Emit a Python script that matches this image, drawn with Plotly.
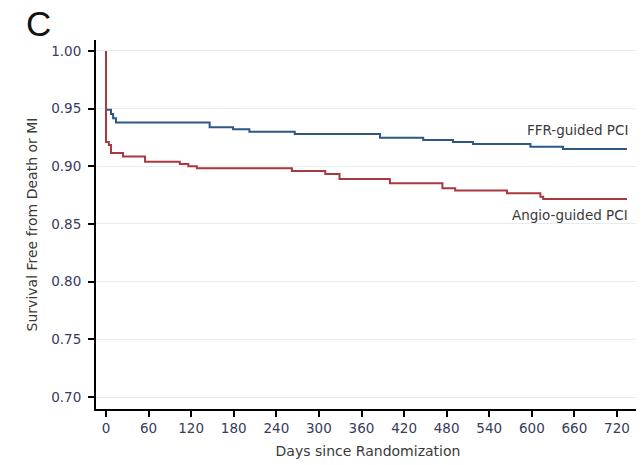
import plotly.graph_objects as go

# Kaplan-Meier step data (days, survival)
ffr_days = [0, 0, 7, 10, 14, 146, 179, 202, 266, 386, 447, 489, 517, 598, 644, 734]
ffr_surv = [1.0, 0.949, 0.9454, 0.9416, 0.9379, 0.9338, 0.9321, 0.930, 0.928, 0.9248,
            0.9228, 0.9211, 0.9194, 0.917, 0.915, 0.915]

angio_days = [0, 0, 4, 7, 24, 55, 104, 116, 128, 262, 309, 329, 400, 474, 492, 565,
              612, 616, 734]
angio_surv = [1.0, 0.921, 0.9185, 0.9116, 0.9084, 0.904, 0.902, 0.900, 0.8983, 0.896,
              0.8933, 0.889, 0.8853, 0.881, 0.879, 0.8766, 0.8737, 0.8717, 0.8717]

x_ticks = [0, 60, 120, 180, 240, 300, 360, 420, 480, 540, 600, 660, 720]
y_ticks = [0.70, 0.75, 0.80, 0.85, 0.90, 0.95, 1.00]

series_labels = ["FFR-guided PCI", "Angio-guided PCI"]

font_family = "DejaVu Sans, sans-serif"
tick_color = "#363c5c"
text_color = "#3a3a3a"

fig = go.Figure()
fig.add_trace(go.Scatter(x=ffr_days, y=ffr_surv, mode="lines", line_shape="hv",
                         line=dict(color="#2f5784", width=2), name=series_labels[0],
                         hoverinfo="skip"))
fig.add_trace(go.Scatter(x=angio_days, y=angio_surv, mode="lines", line_shape="hv",
                         line=dict(color="#a9393f", width=2), name=series_labels[1],
                         hoverinfo="skip"))

fig.add_annotation(x=738, y=0.9315, xref="x", yref="y", text=series_labels[0],
                   showarrow=False, xanchor="right", yanchor="middle",
                   font=dict(size=13.5, color=text_color, family=font_family))
fig.add_annotation(x=738, y=0.858, xref="x", yref="y", text=series_labels[1],
                   showarrow=False, xanchor="right", yanchor="middle",
                   font=dict(size=13.5, color=text_color, family=font_family))

# panel letter
fig.add_annotation(x=(38 - 96) / 544, y=(409 - 23) / 369, xref="paper", yref="paper",
                   text="C", showarrow=False, xanchor="center", yanchor="middle",
                   font=dict(size=35, color="#111111", family="Liberation Sans, Arial, sans-serif"))

# (page body adds an 8px offset, so the figure is 8px smaller and margins shifted)
fig.update_layout(
    width=636, height=457,
    margin=dict(l=88, r=4, t=32, b=56, autoexpand=False),
    paper_bgcolor="white", plot_bgcolor="white",
    showlegend=False,
    font=dict(family=font_family, size=13, color=text_color),
    xaxis=dict(range=[-14.1, 752.4], tickvals=x_ticks, ticks="outside", ticklen=6,
               tickwidth=1.5, tickcolor="black", showline=True, linecolor="black",
               linewidth=2, showgrid=False, zeroline=False, automargin=False,
               tickfont=dict(size=13.5, color=tick_color),
               title=dict(text="Days since Randomization", standoff=11,
                          font=dict(size=14, color=text_color))),
    yaxis=dict(range=[0.6896, 1.0095], tickvals=y_ticks, tickformat=".2f",
               ticks="outside", ticklen=6, tickwidth=1.5, tickcolor="black",
               showline=True, linecolor="black", linewidth=2, automargin=False,
               ticklabelstandoff=4,
               showgrid=True, gridcolor="#e4edf1", gridwidth=1, zeroline=False,
               tickfont=dict(size=13.5, color=tick_color),
               title=dict(text="Survival Free from Death or MI", standoff=10,
                          font=dict(size=14, color=text_color))),
)

fig.write_html("out.html")
